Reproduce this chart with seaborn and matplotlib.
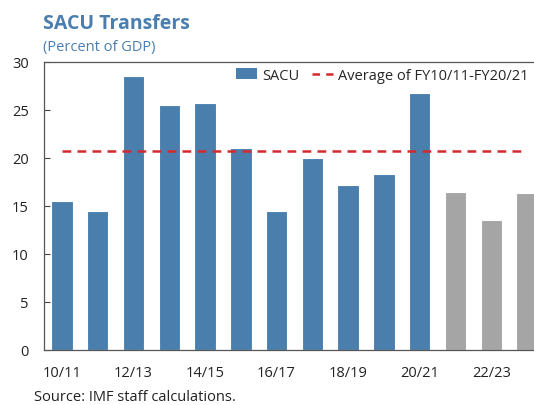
import matplotlib
matplotlib.use("Agg")
import matplotlib.pyplot as plt
import seaborn as sns
import pandas as pd
import numpy as np
from matplotlib.lines import Line2D
from matplotlib.patches import Patch

# Data
years = ["10/11", "11/12", "12/13", "13/14", "14/15", "15/16", "16/17",
         "17/18", "18/19", "19/20", "20/21", "21/22", "22/23", "23/24"]
sacu = [15.5, 14.4, 28.5, 25.5, 25.7, 21.0, 14.5, 20.0, 17.2, 18.3, 26.7, 16.4, 13.5, 16.3]
kind = ["Actual"] * 11 + ["Projection"] * 3
tick_labels = ["10/11", "", "12/13", "", "14/15", "", "16/17", "", "18/19", "", "20/21", "", "22/23", ""]
average = float(np.mean(sacu[:11]))

sns.set_theme(style="white")
plt.rcParams['font.family'] = ['Open Sans', 'DejaVu Sans']

BLUE = "#4A7FAD"
GREY = "#A5A5A5"
RED = "#D42A2F"
TITLE_BLUE = "#4A7EB0"

df = pd.DataFrame({"year": years, "value": sacu, "kind": kind})

fig = plt.figure(figsize=(5.34, 4.06), dpi=100)
ax = fig.add_axes([44/534, (406-350.7)/406, 501/534, 288/406])

sns.barplot(data=df, x="year", y="value", hue="kind", palette={"Actual": BLUE, "Projection": GREY},
            dodge=False, width=0.6, edgecolor="white", linewidth=0.8, legend=False,
            saturation=1, ax=ax)

ax.plot([0, 13], [average, average], color=RED, linestyle=(0, (3.5, 2.5)), linewidth=1.8)

ax.set_xlim(-0.5, 13.5)
ax.set_ylim(0, 30)
ax.set_yticks([0, 5, 10, 15, 20, 25, 30])
ax.set_xticks(range(len(years)))
ax.set_xticklabels(tick_labels)
ax.set_xticks(np.arange(-0.5, 13.6, 1.0), minor=True)
ax.tick_params(axis="x", which="major", length=0, pad=11, labelsize=10.5, colors="#222222")
ax.tick_params(axis="x", which="minor", direction="in", length=4, color="#444444", width=0.8)
ax.tick_params(axis="y", direction="in", length=4, color="#444444", width=0.8, labelsize=10.5,
               labelcolor="#222222", pad=11, left=True)
ax.set_xlabel("")
ax.set_ylabel("")
for s in ["left", "bottom", "top"]:
    ax.spines[s].set_color("#555555")
    ax.spines[s].set_linewidth(0.9)
ax.spines["right"].set_visible(False)

handles = [Patch(facecolor=BLUE, edgecolor="none"),
           Line2D([0], [0], color=RED, linestyle=(0, (3.0, 2.5)), linewidth=1.8)]
leg = ax.legend(handles, ["SACU", "Average of FY10/11-FY20/21"], loc="upper right",
                bbox_to_anchor=(0.993, 1.025), ncol=2, frameon=False, fontsize=10.5,
                handlelength=1.4, handletextpad=0.35, columnspacing=0.9)

fig.text(43/534, 1 - 24/406, "SACU Transfers", fontsize=14, fontweight="bold",
         color=TITLE_BLUE, va="center", ha="left")
fig.text(43/534, 1 - 47/406, "(Percent of GDP)", fontsize=10.5, color=TITLE_BLUE,
         va="center", ha="left")
fig.text(34/534, 1 - 398/406, "Source: IMF staff calculations.", fontsize=10.5,
         color="#222222", va="center", ha="left")

fig.savefig("out.png", dpi=100)
